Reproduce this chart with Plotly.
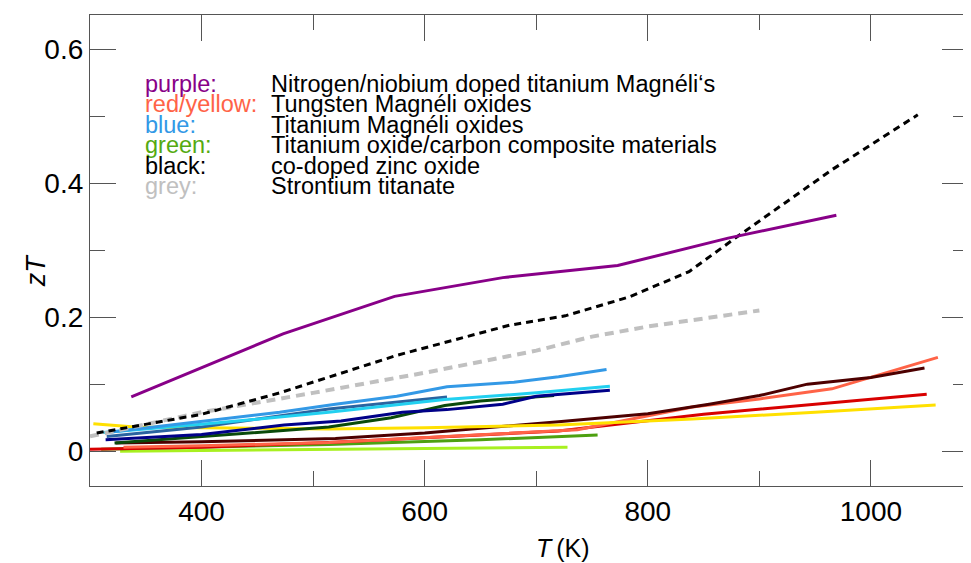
import plotly.graph_objects as go

# ---- data ----
purple_T = [337, 473, 573, 670, 773, 872, 969]
purple_zT = [0.081, 0.175, 0.231, 0.259, 0.277, 0.318, 0.352]

black_T = [306, 340, 400, 470, 575, 676, 726, 783, 837, 880, 965, 1042]
black_zT = [0.027, 0.037, 0.055, 0.087, 0.143, 0.188, 0.202, 0.23, 0.268, 0.32, 0.42, 0.502]

grey_T = [300, 400, 500, 600, 700, 750, 800, 850, 900]
grey_zT = [0.022, 0.058, 0.087, 0.117, 0.15, 0.171, 0.186, 0.198, 0.21]

lightblue_T = [315, 400, 470, 520, 575, 620, 680, 720, 763]
lightblue_zT = [0.028, 0.045, 0.058, 0.07, 0.082, 0.096, 0.103, 0.111, 0.122]

cyan_T = [312, 400, 514, 618, 700, 766]
cyan_zT = [0.028, 0.04, 0.058, 0.077, 0.087, 0.097]

steel_T = [315, 400, 514, 620]
steel_zT = [0.022, 0.036, 0.063, 0.081]

navy_T = [314, 400, 474, 525, 580, 620, 670, 700, 766]
navy_zT = [0.017, 0.025, 0.039, 0.045, 0.058, 0.062, 0.07, 0.082, 0.091]

darkgreen_T = [322, 400, 514, 570, 618, 650, 716]
darkgreen_zT = [0.012, 0.022, 0.036, 0.05, 0.068, 0.075, 0.083]

yellow_T = [303, 340, 400, 514, 600, 720, 840, 950, 1058]
yellow_zT = [0.041, 0.036, 0.035, 0.033, 0.035, 0.039, 0.048, 0.058, 0.069]

maroon_T = [323, 400, 520, 600, 720, 800, 855, 900, 943, 1000, 1048]
maroon_zT = [0.012, 0.014, 0.019, 0.027, 0.044, 0.056, 0.07, 0.083, 0.1, 0.11, 0.124]

coral_T = [330, 400, 514, 600, 737, 840, 900, 965, 1060]
coral_zT = [0.006, 0.008, 0.013, 0.02, 0.032, 0.066, 0.078, 0.093, 0.14]

red_T = [300, 400, 514, 600, 720, 850, 950, 1050]
red_zT = [0.003, 0.006, 0.013, 0.02, 0.03, 0.055, 0.07, 0.085]

green_T = [310, 400, 514, 650, 755]
green_zT = [0.003, 0.006, 0.01, 0.017, 0.024]

lime_T = [327, 500, 728]
lime_zT = [0.0, 0.003, 0.006]

legend_keys = ["purple:", "red/yellow:", "blue:", "green:", "black:", "grey:"]
legend_texts = ["Nitrogen/niobium doped titanium Magnéli‘s", "Tungsten Magnéli oxides",
                "Titanium Magnéli oxides", "Titanium oxide/carbon composite materials",
                "co-doped zinc oxide", "Strontium titanate"]
legend_colors = ["#880088", "#ff6347", "#3399e6", "#55aa11", "#000000", "#c0c0c0"]

x_ticks = [400, 600, 800, 1000]
y_ticks = [0, 0.2, 0.4, 0.6]

FONT = "Liberation Sans, Arial, sans-serif"

fig = go.Figure()

series = [
    (lime_T, lime_zT, "#a8f020", None, 3),
    (green_T, green_zT, "#4da010", None, 3),
    (red_T, red_zT, "#d80000", None, 3),
    (coral_T, coral_zT, "#ff6347", None, 3),
    (maroon_T, maroon_zT, "#4d0000", None, 3),
    (yellow_T, yellow_zT, "#ffe000", None, 3),
    (darkgreen_T, darkgreen_zT, "#0a4a0a", None, 3),
    (navy_T, navy_zT, "#000088", None, 3),
    (steel_T, steel_zT, "#2a64a0", None, 3),
    (cyan_T, cyan_zT, "#22d0f0", None, 3),
    (lightblue_T, lightblue_zT, "#3399e6", None, 3),
    (grey_T, grey_zT, "#c0c0c0", "9px,6px", 4),
    (black_T, black_zT, "#000000", "7px,5px", 3),
    (purple_T, purple_zT, "#880088", None, 3),
]
for xs, ys, col, dash, w in series:
    fig.add_trace(go.Scatter(x=xs, y=ys, mode="lines",
                             line=dict(color=col, width=w, dash=dash),
                             showlegend=False, hoverinfo="skip"))

y0 = 0.8535
dy = 0.0433
for i, (k, t, c) in enumerate(zip(legend_keys, legend_texts, legend_colors)):
    fig.add_annotation(xref="paper", yref="paper", x=0.062, y=y0 - i * dy,
                       text=k, showarrow=False, xanchor="left", yanchor="middle",
                       borderpad=0, font=dict(family=FONT, size=23.5, color=c))
    fig.add_annotation(xref="paper", yref="paper", x=0.205, y=y0 - i * dy,
                       text=t, showarrow=False, xanchor="left", yanchor="middle",
                       borderpad=0, font=dict(family=FONT, size=23.5, color="black"))

fig.add_annotation(xref="paper", yref="paper", x=0.539, y=-0.132,
                   text="<i>T</i>\u2009(K)", showarrow=False, xanchor="center", yanchor="middle",
                   font=dict(family=FONT, size=25, color="black"))
fig.add_annotation(xref="paper", yref="paper", x=-0.062, y=0.457,
                   text="<i>zT</i>", showarrow=False, xanchor="center", yanchor="middle",
                   textangle=-90, font=dict(family=FONT, size=27, color="black"))

axis_common = dict(showline=True, linecolor="#555555", linewidth=1.2, mirror="allticks",
                   ticks="inside", tickcolor="#555555", tickwidth=1.2,
                   showgrid=False, zeroline=False, automargin=False,
                   tickfont=dict(family=FONT, size=28, color="black"))

fig.update_xaxes(range=[300, 1087], tickvals=x_ticks, ticklen=26,
                 minor=dict(dtick=100, tick0=300, ticklen=15, ticks="inside",
                            tickcolor="#555555", tickwidth=1.2, showgrid=False),
                 **axis_common)
fig.update_yaxes(range=[-0.052, 0.651], tickvals=y_ticks,
                 ticktext=["0", "0.2", "0.4", "0.6"], ticklen=26,
                 minor=dict(dtick=0.1, tick0=0, ticklen=15, ticks="inside",
                            tickcolor="#555555", tickwidth=1.2, showgrid=False),
                 **axis_common)

# page body adds an 8px offset; size the figure so the plot box lands where the reference has it
fig.update_layout(width=963, height=555, margin=dict(l=82, r=3, t=7, b=77),
                  plot_bgcolor="white", paper_bgcolor="white",
                  font=dict(family=FONT))

fig.write_html("out.html")
